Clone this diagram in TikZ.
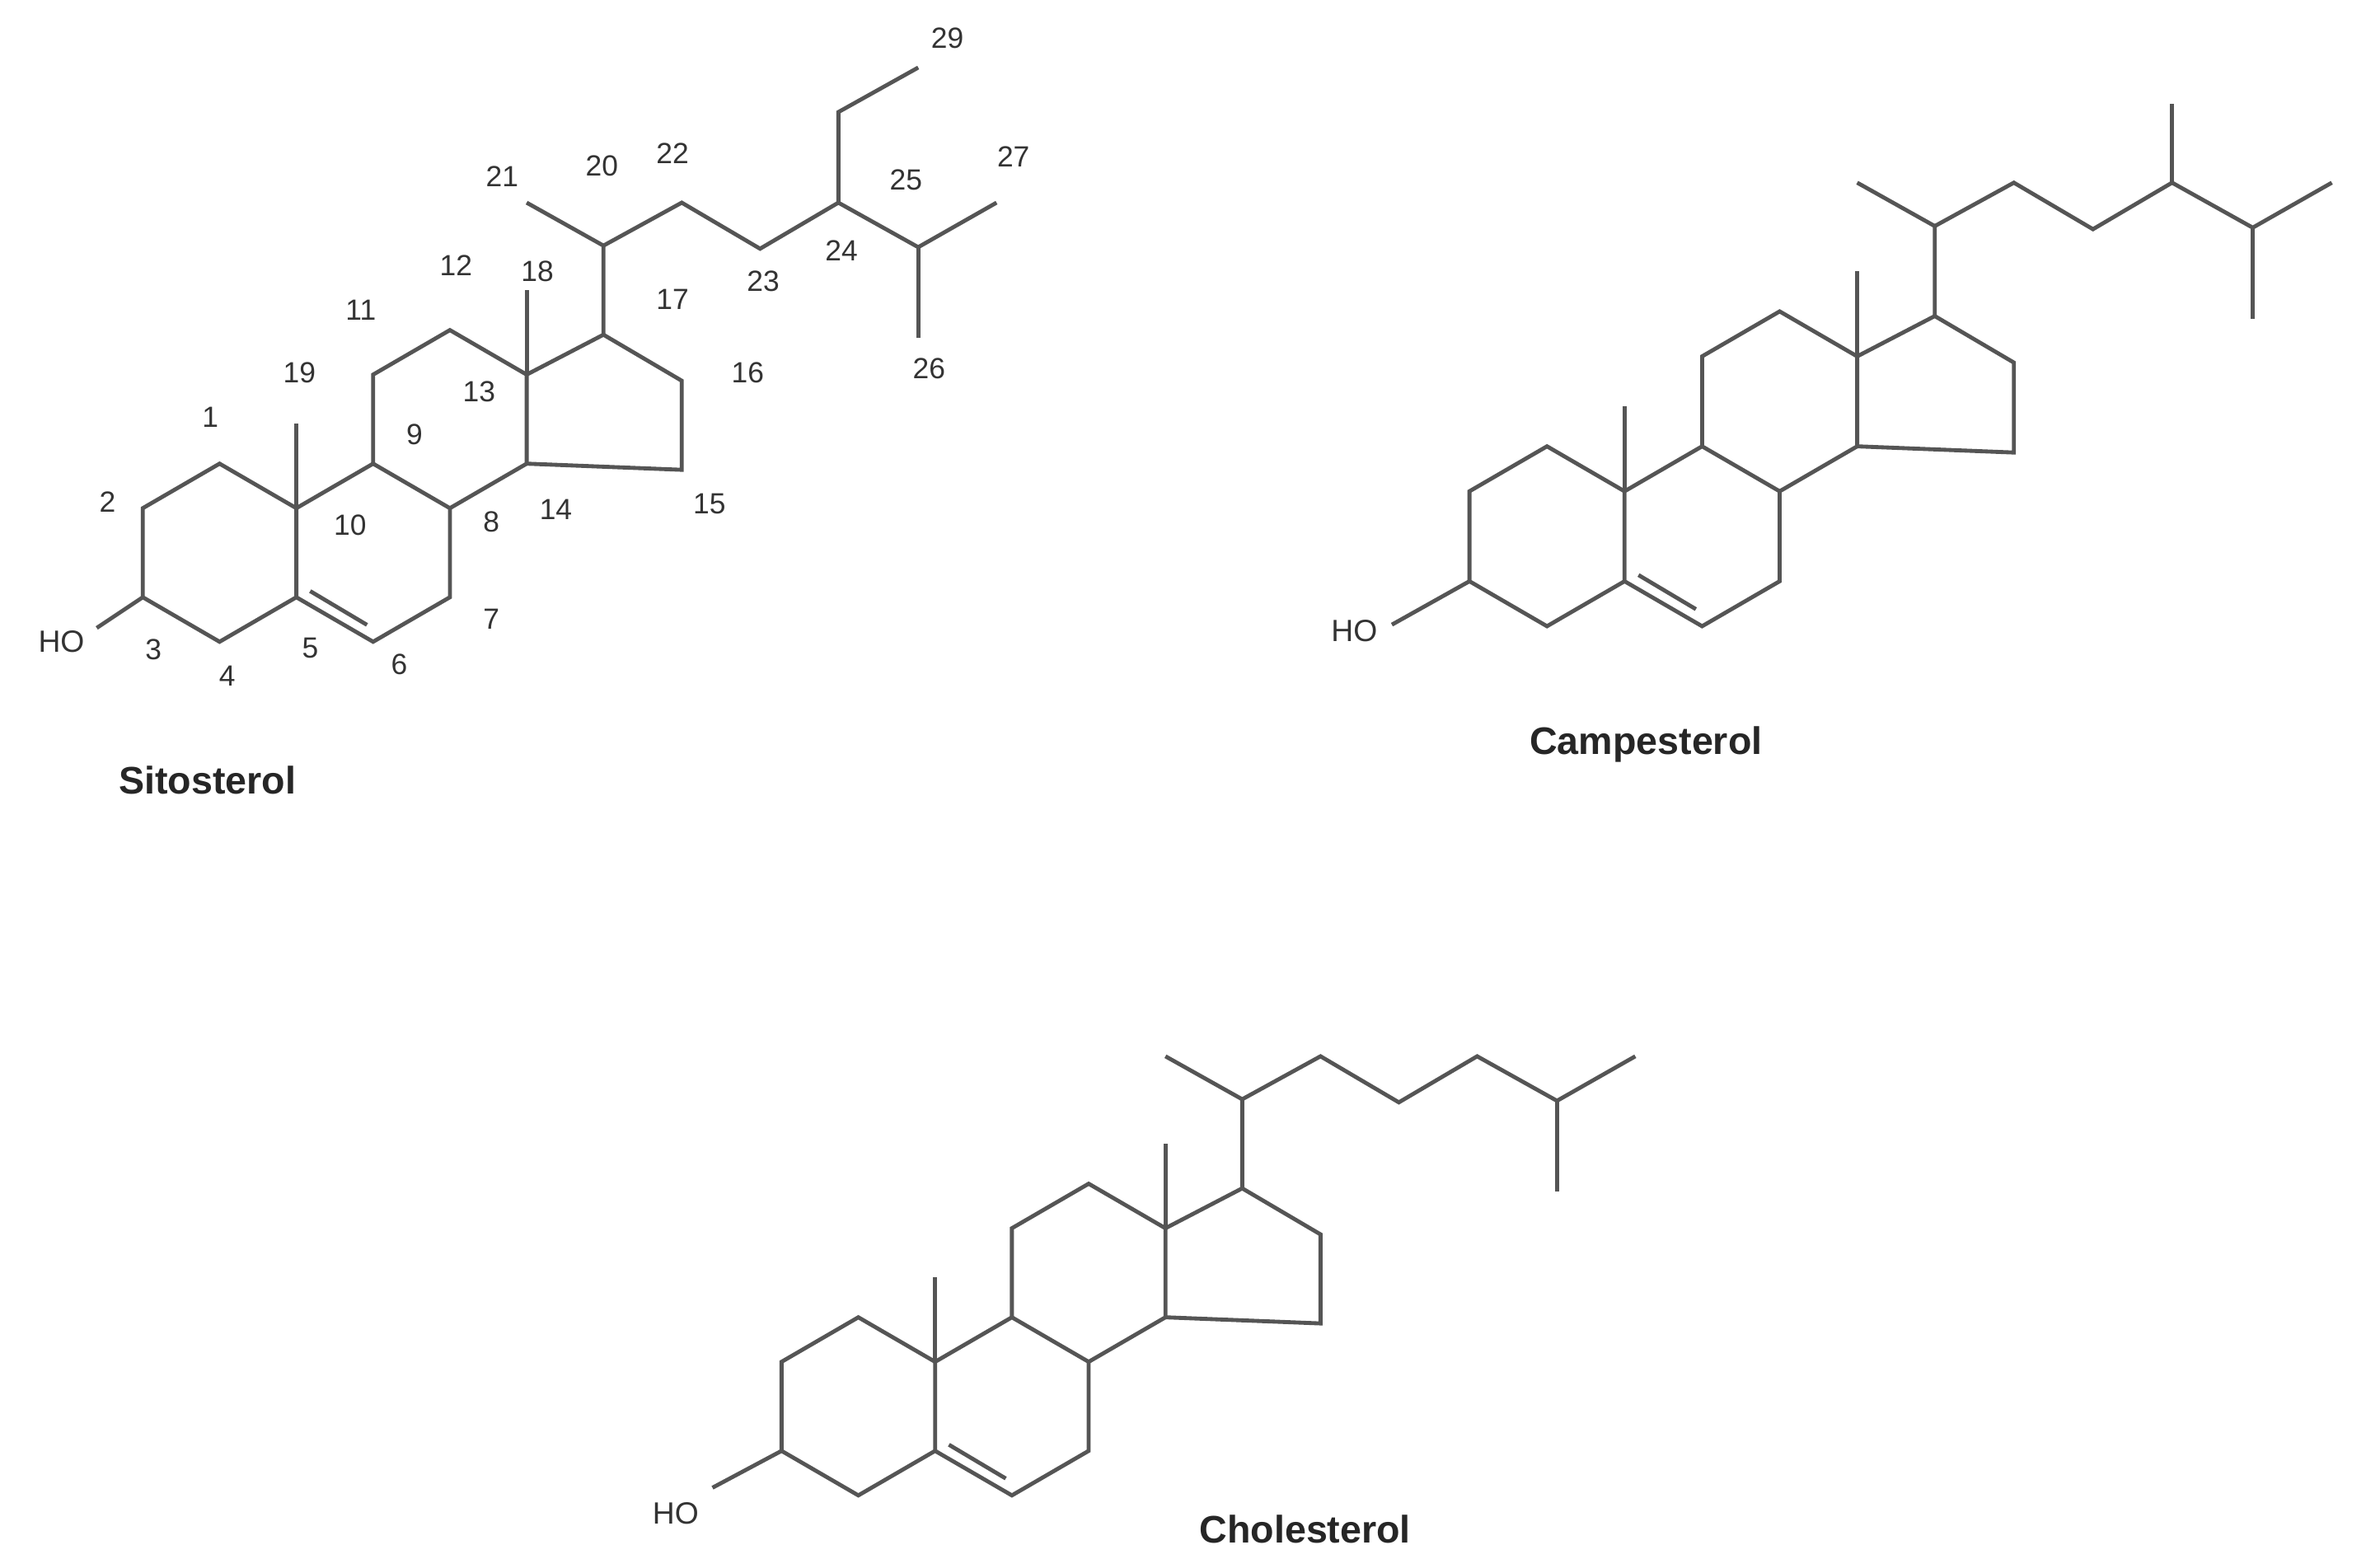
\documentclass[tikz,border=0pt]{standalone}
\usepackage{fontspec}
\setmainfont{Liberation Sans}
\definecolor{bondc}{HTML}{555555}
\definecolor{txtc}{HTML}{333333}
\tikzset{bond/.style={draw=bondc,line width=2.6pt,line join=miter,line cap=butt},
  num/.style={text=txtc,font=\fontsize{19}{19}\selectfont,inner sep=0pt},
  title/.style={text=black!85,font=\bfseries\fontsize{25}{25}\selectfont,inner sep=0pt},
  ho/.style={text=txtc,font=\fontsize{20}{20}\selectfont,inner sep=0pt}}
\newcommand{\skelcoords}[1]{%
  \coordinate (#1c10) at (0,0); \coordinate (#1c5) at (0,58);
  \coordinate (#1c4) at (-50,87); \coordinate (#1c3) at (-100,58);
  \coordinate (#1c2) at (-100,0); \coordinate (#1c1) at (-50,-29);
  \coordinate (#1c19) at (0,-55); \coordinate (#1c9) at (50,-29);
  \coordinate (#1c8) at (100,0); \coordinate (#1c7) at (100,58);
  \coordinate (#1c6) at (50,87); \coordinate (#1c11) at (50,-87);
  \coordinate (#1c12) at (100,-116); \coordinate (#1c13) at (150,-87);
  \coordinate (#1c14) at (150,-29); \coordinate (#1c18) at (150,-142);
  \coordinate (#1c17) at (200,-113); \coordinate (#1c16) at (251,-83);
  \coordinate (#1c15) at (251,-25); \coordinate (#1c20) at (200,-171);
  \coordinate (#1c21) at (150,-199); \coordinate (#1c22) at (251,-199);
  \coordinate (#1c23) at (302,-169); \coordinate (#1c24) at (353,-199);
  \coordinate (#1c25) at (405,-170); \coordinate (#1c27) at (456,-199);
  \coordinate (#1c26) at (405,-111);
  \coordinate (#1d1) at (9,54); \coordinate (#1d2) at (46,76);
  \draw[bond] (#1c10)--(#1c1)--(#1c2)--(#1c3)--(#1c4)--(#1c5)--(#1c10)--(#1c9)--(#1c8)--(#1c7)--(#1c6)--(#1c5);
  \draw[bond] (#1c10)--(#1c19);
  \draw[bond] (#1c9)--(#1c11)--(#1c12)--(#1c13)--(#1c14)--(#1c8);
  \draw[bond] (#1c13)--(#1c18);
  \draw[bond] (#1c13)--(#1c17)--(#1c16)--(#1c15)--(#1c14);
  \draw[bond] (#1d1)--(#1d2);
  \draw[bond] (#1c17)--(#1c20)--(#1c21);
  \draw[bond] (#1c20)--(#1c22)--(#1c23)--(#1c24)--(#1c25)--(#1c27);
  \draw[bond] (#1c25)--(#1c26);
}
\begin{document}
\begin{tikzpicture}[x=1pt,y=-1pt]
\useasboundingbox[fill=white] (0,0) rectangle (1550,1015);
% Sitosterol
\begin{scope}[shift={(193,331)}]
  \skelcoords{s}
  \coordinate (sc28) at (353,-258); \coordinate (sc29) at (405,-287);
  \draw[bond] (sc24)--(sc28)--(sc29);
  \coordinate (sho) at (-130,78);
  \draw[bond] (sc3)--(sho);
\end{scope}
\node[ho] (sHO) at (40,418) {HO};
\foreach \t/\p in {1/{137,272},2/{70,327},3/{100,423},4/{148,440},5/{202,422},6/{260,433},7/{320,403},8/{320,340},9/{270,283},10/{228,342},11/{235,202},12/{297,173},13/{312,255},14/{362,332},15/{462,328},16/{487,243},17/{438,195},18/{350,177},19/{195,243},20/{392,108},21/{327,115},22/{438,100},23/{497,183},24/{548,163},25/{590,117},26/{605,240},27/{660,102},29/{617,25}}
  \node[num] (n\t) at (\p) {\t};
\node[title] (sname) at (135,508) {Sitosterol};
% Campesterol
\begin{scope}[shift={(1058,320)},scale=1.01]
  \skelcoords{p}
  \coordinate (pc28) at (353,-250);
  \draw[bond] (pc24)--(pc28);
  \coordinate (pho) at (-150,86);
  \draw[bond] (pc3)--(pho);
\end{scope}
\node[ho] (pHO) at (882,411) {HO};
\node[title] (pname) at (1072,485) {Campesterol};
% Cholesterol
\begin{scope}[shift={(609,887)}]
  \skelcoords{c}
  \coordinate (cho) at (-145,82);
  \draw[bond] (cc3)--(cho);
\end{scope}
\node[ho] (cHO) at (440,986) {HO};
\node[title] (cname) at (850,996) {Cholesterol};
\end{tikzpicture}
\end{document}
